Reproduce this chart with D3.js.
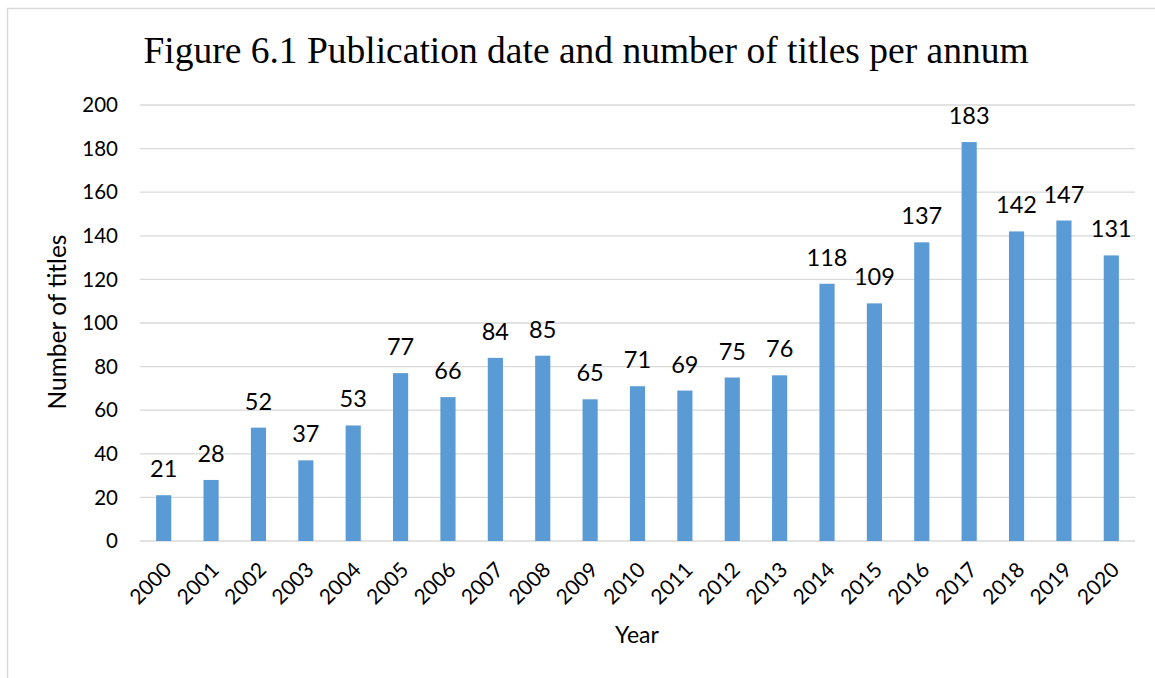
<!DOCTYPE html>
<html>
<head>
<meta charset="utf-8">
<script src="https://cdn.jsdelivr.net/npm/d3@7"></script>
<style>
  body { margin: 0; background: #fff; }
  text { font-family: Lato, "Open Sans", sans-serif; fill: #000; }
</style>
</head>
<body>
<svg id="chart"></svg>
<script>
var w = 1155;
var h = 678;
let years = ["2000", "2001", "2002", "2003", "2004", "2005", "2006", "2007", "2008", "2009", "2010",
    "2011", "2012", "2013", "2014", "2015", "2016", "2017", "2018", "2019", "2020"];
let titles = [21, 28, 52, 37, 53, 77, 66, 84, 85, 65, 71, 69, 75, 76, 118, 109, 137, 183, 142, 147, 131];
let yTicks = [0, 20, 40, 60, 80, 100, 120, 140, 160, 180, 200];

var margin = { left: 140, right: 20, top: 105, bottom: 137 };

var svg = d3.select("#chart")
    .attr("width", w)
    .attr("height", h);

// outer frame (only top and left edges visible)
svg.append("rect")
    .attr("x", 7.5)
    .attr("y", 8.5)
    .attr("width", w + 20)
    .attr("height", h + 20)
    .attr("fill", "none")
    .attr("stroke", "#d9d9d9")
    .attr("stroke-width", 1.5);

var x = d3.scaleBand()
    .domain(years)
    .range([margin.left, w - margin.right])
    .paddingInner(0.68)
    .paddingOuter(0.34);

var y = d3.scaleLinear()
    .domain([0, 200])
    .range([h - margin.bottom, margin.top]);

//gridlines
svg.append("g")
    .selectAll("line")
    .data(yTicks)
    .enter()
    .append("line")
    .attr("x1", margin.left)
    .attr("x2", w - margin.right)
    .attr("y1", d => y(d))
    .attr("y2", d => y(d))
    .attr("stroke", "#d9d9d9")
    .attr("stroke-width", 1.3);

//y tick labels
svg.append("g")
    .selectAll("text")
    .data(yTicks)
    .enter()
    .append("text")
    .attr("x", 118)
    .attr("y", d => y(d))
    .attr("dy", "0.35em")
    .attr("text-anchor", "end")
    .style("font-size", "20.5px")
    .text(d => d);

//bars
svg.append("g")
    .selectAll("rect")
    .data(titles)
    .enter()
    .append("rect")
    .attr("x", (d, i) => x(years[i]))
    .attr("width", x.bandwidth())
    .attr("y", d => y(d))
    .attr("height", d => y(0) - y(d))
    .attr("fill", "#5b9bd5");

//value labels
svg.append("g")
    .selectAll("text")
    .data(titles)
    .enter()
    .append("text")
    .attr("x", (d, i) => x(years[i]) + x.bandwidth() / 2)
    .attr("y", d => y(d) - 18)
    .attr("text-anchor", "middle")
    .style("font-size", "23.5px")
    .text(d => d);

//x labels rotated
svg.append("g")
    .selectAll("text")
    .data(years)
    .enter()
    .append("text")
    .attr("transform", d => `translate(${x(d) + x.bandwidth() / 2 + 4},${y(0) + 25}) rotate(-45)`)
    .attr("text-anchor", "end")
    .attr("dy", "0.35em")
    .style("font-size", "21px")
    .text(d => d);

//title
svg.append("text")
    .attr("x", 586)
    .attr("y", 63)
    .attr("text-anchor", "middle")
    .style("font-family", "'Liberation Serif', 'Times New Roman', serif")
    .style("font-size", "37.5px")
    .text("Figure 6.1 Publication date and number of titles per annum");

//axis titles
svg.append("text")
    .attr("x", 637)
    .attr("y", 643)
    .attr("text-anchor", "middle")
    .style("font-size", "23px")
    .text("Year");

svg.append("text")
    .attr("transform", "translate(66,322) rotate(-90)")
    .attr("text-anchor", "middle")
    .style("font-size", "24.5px")
    .text("Number of titles");
</script>
</body>
</html>
